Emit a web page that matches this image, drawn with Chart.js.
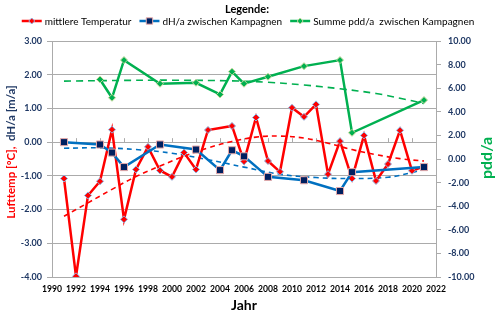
<!DOCTYPE html>
<html>
<head>
<meta charset="utf-8">
<script src="https://cdn.jsdelivr.net/npm/chart.js@4"></script>
<style>
  html, body { margin: 0; padding: 0; background: #fff; }
</style>
</head>
<body>
<canvas id="chart" width="500" height="315"></canvas>
<script>
// Lufttemperatur (jaehrlich)
const tempYears = [1991, 1992, 1993, 1994, 1995, 1996, 1997, 1998, 1999, 2000, 2001, 2002, 2003, 2005, 2006, 2007, 2008, 2009, 2010, 2011, 2012, 2013, 2014, 2015, 2016, 2017, 2018, 2019, 2020, 2021];
const tempValues = [-1.08, -3.98, -1.58, -1.16, 0.37, -2.29, -0.81, -0.14, -0.84, -1.03, -0.31, -0.81, 0.36, 0.48, -0.57, 0.73, -0.56, -0.88, 1.02, 0.75, 1.12, -0.95, 0.03, -1.08, 0.2, -1.15, -0.65, 0.35, -0.85, -0.72];

// dH/a zwischen Kampagnen
const dhYears = [1991, 1994, 1995, 1996, 1999, 2002, 2004, 2005, 2006, 2008, 2011, 2014, 2015, 2021];
const dhValues = [0, -0.07, -0.31, -0.74, -0.07, -0.22, -0.83, -0.24, -0.42, -1.03, -1.13, -1.45, -0.89, -0.74];

// Summe pdd/a zwischen Kampagnen (rechte Achse)
const pddYears = [1994, 1995, 1996, 1999, 2002, 2004, 2005, 2006, 2008, 2011, 2014, 2015, 2021];
const pddValues = [6.74, 5.19, 8.38, 6.38, 6.46, 5.47, 7.40, 6.38, 6.97, 7.87, 8.38, 2.22, 4.99];

// Trendlinien
const tempTrendYears = [1991, 1993, 1995, 1997, 1999, 2001, 2003, 2005, 2007, 2009, 2011, 2013, 2015, 2017, 2019, 2021];
const tempTrendValues = [-2.2, -1.8, -1.4, -1.02, -0.71, -0.42, -0.17, 0.02, 0.15, 0.18, 0.12, -0.03, -0.22, -0.37, -0.49, -0.56];
const dhTrendYears = [1991, 1994, 1997, 2000, 2003, 2006, 2009, 2012, 2015, 2018, 2020, 2021];
const dhTrendValues = [-0.18, -0.17, -0.22, -0.33, -0.52, -0.74, -0.95, -1.05, -1.08, -1.04, -0.9, -0.8];
const pddTrendYears = [1991, 1995, 2000, 2005, 2008, 2011, 2014, 2017, 2019, 2021];
const pddTrendValues = [6.6, 6.65, 6.68, 6.62, 6.5, 6.27, 5.95, 5.55, 5.15, 4.7];

// Achsen
const xTicks = [1990, 2022, 2];
const leftTicks = [-4, 3, 1];
const rightTicks = [-10, 10, 1];

const FONT = 'Lato, "Open Sans", sans-serif';
const NAVY = '#1F3864';
const GRID = '#ABABAB';

const toPoints = (xs, ys) => xs.map((x, i) => ({ x: x, y: ys[i] }));

const trend = (label, xs, ys, color, axis, dash) => ({
    label: label,
    data: toPoints(xs, ys),
    yAxisID: axis,
    borderColor: color,
    borderWidth: 1.6,
    borderDash: dash,
    pointRadius: 0,
    tension: 0.4,
    isTrend: true,
    order: 10
});

// Legende wie in Excel: Linie mit Marker in der Mitte
const legendPlugin = {
    id: 'excelLegend',
    afterDraw(chart) {
        const ctx = chart.ctx;
        ctx.save();
        ctx.fillStyle = '#000';
        ctx.textBaseline = 'middle';
        ctx.textAlign = 'center';
        ctx.font = 'bold 11px ' + FONT;
        ctx.fillText('Legende:', 247, 9);

        ctx.font = '10px ' + FONT;
        ctx.textAlign = 'left';
        const items = chart.data.datasets.filter(d => !d.isTrend);
        const sw = 20, gapIn = 3, gapOut = 8;
        const widths = items.map(d => sw + gapIn + ctx.measureText(d.label).width);
        const total = widths.reduce((a, b) => a + b, 0) + gapOut * (items.length - 1);
        let x = 248 - total / 2;
        const y = 21;
        items.forEach((d, i) => {
            ctx.strokeStyle = d.borderColor;
            ctx.lineWidth = 2.5;
            ctx.beginPath();
            ctx.moveTo(x, y);
            ctx.lineTo(x + sw, y);
            ctx.stroke();
            ctx.fillStyle = d.pointBackgroundColor;
            ctx.strokeStyle = d.pointBorderColor;
            ctx.lineWidth = 1;
            Chart.helpers.drawPoint(ctx, { pointStyle: d.pointStyle, radius: d.pointRadius - 0.5, rotation: 0, borderWidth: 1 }, x + sw / 2, y);
            ctx.fillStyle = '#000';
            ctx.fillText(d.label, x + sw + gapIn, y + 0.5);
            x += widths[i] + gapOut;
        });
        ctx.restore();
    }
};

// Achsentitel links (zweifarbig) und rechts (von unten nach oben)
const axisTitlePlugin = {
    id: 'axisTitles',
    afterDraw(chart) {
        const ctx = chart.ctx;
        ctx.save();
        ctx.font = 'bold 11.5px ' + FONT;
        ctx.textBaseline = 'middle';
        ctx.textAlign = 'left';
        const red = 'Lufttemp [°C],  ';
        const blue = 'dH/a [m/a]';
        const w1 = ctx.measureText(red).width;
        const w2 = ctx.measureText(blue).width;
        ctx.translate(11, 152);
        ctx.rotate(-Math.PI / 2);
        const start = -(w1 + w2) / 2;
        ctx.fillStyle = '#FF0000';
        ctx.fillText(red, start, 0);
        ctx.fillStyle = NAVY;
        ctx.fillText(blue, start + w1, 0);
        ctx.restore();

        ctx.save();
        ctx.font = 'bold 16px ' + FONT;
        ctx.textBaseline = 'middle';
        ctx.textAlign = 'center';
        ctx.fillStyle = '#00B050';
        ctx.translate(487, 158);
        ctx.rotate(-Math.PI / 2);
        ctx.fillText('pdd/a', 0, 0);
        ctx.restore();
    }
};

// kleine Teilstriche der Jahresachse auf der Nulllinie
const zeroTicksPlugin = {
    id: 'zeroTicks',
    beforeDatasetsDraw(chart) {
        const ctx = chart.ctx;
        const xs = chart.scales.x;
        const y0 = chart.scales.y.getPixelForValue(0);
        ctx.save();
        ctx.strokeStyle = GRID;
        ctx.lineWidth = 1;
        ctx.beginPath();
        xs.ticks.forEach(t => {
            const px = Math.round(xs.getPixelForValue(t.value)) + 0.5;
            ctx.moveTo(px, y0);
            ctx.lineTo(px, y0 - 4);
        });
        ctx.stroke();
        ctx.restore();
    }
};

new Chart(document.getElementById('chart'), {
    type: 'line',
    data: {
        datasets: [
            {
                label: 'mittlere Temperatur',
                data: toPoints(tempYears, tempValues),
                yAxisID: 'y',
                borderColor: '#FF0000',
                borderWidth: 2.5,
                pointStyle: 'rectRot',
                pointRadius: 3.5,
                pointBackgroundColor: '#FF0000',
                pointBorderColor: '#8DB4E2',
                pointBorderWidth: 1,
                spanGaps: true,
                tension: 0,
                order: 3
            },
            {
                label: 'dH/a zwischen Kampagnen',
                data: toPoints(dhYears, dhValues),
                yAxisID: 'y',
                borderColor: '#0070C0',
                borderWidth: 2.5,
                pointStyle: 'rect',
                pointRadius: 5,
                pointBackgroundColor: '#002060',
                pointBorderColor: '#E6A9A8',
                pointBorderWidth: 1,
                tension: 0,
                order: 2
            },
            {
                label: 'Summe pdd/a  zwischen Kampagnen',
                data: toPoints(pddYears, pddValues),
                yAxisID: 'y1',
                borderColor: '#00B050',
                borderWidth: 2.5,
                pointStyle: 'rectRot',
                pointRadius: 3.5,
                pointBackgroundColor: '#00B050',
                pointBorderColor: '#C4D79B',
                pointBorderWidth: 1,
                tension: 0,
                order: 1
            },
            trend('Trend Temperatur', tempTrendYears, tempTrendValues, '#FF0000', 'y', [5, 4]),
            trend('Trend dH/a', dhTrendYears, dhTrendValues, '#0070C0', 'y', [5, 4]),
            trend('Trend pdd/a', pddTrendYears, pddTrendValues, '#00B050', 'y1', [7, 5])
        ]
    },
    options: {
        responsive: false,
        animation: false,
        layout: { padding: { top: 41, left: 0, right: 0, bottom: 0 } },
        plugins: {
            legend: { display: false },
            tooltip: { enabled: false }
        },
        scales: {
            x: {
                type: 'linear',
                min: xTicks[0],
                max: xTicks[1],
                ticks: {
                    stepSize: xTicks[2],
                    callback: v => String(v),
                    autoSkip: false,
                    maxRotation: 0,
                    padding: 7,
                    color: '#000',
                    font: { family: FONT, size: 8.6, weight: 'bold' }
                },
                grid: { display: false, drawTicks: false },
                border: { display: true, color: GRID },
                title: {
                    display: true,
                    text: 'Jahr',
                    color: '#000',
                    font: { family: FONT, size: 14, weight: 'bold' },
                    padding: { top: 0, bottom: 1 }
                },
                afterFit: s => { s.height = 38; }
            },
            y: {
                position: 'left',
                min: leftTicks[0],
                max: leftTicks[1],
                ticks: {
                    stepSize: leftTicks[2],
                    callback: v => v.toFixed(2),
                    padding: 5,
                    color: NAVY,
                    font: { family: FONT, size: 9, weight: 'bold' }
                },
                grid: { color: GRID, tickLength: 5 },
                border: { color: GRID },
                afterFit: s => { s.width = 52; }
            },
            y1: {
                position: 'right',
                min: rightTicks[0],
                max: rightTicks[1],
                ticks: {
                    stepSize: rightTicks[2],
                    callback: v => v.toFixed(2),
                    padding: 7,
                    color: NAVY,
                    font: { family: FONT, size: 9, weight: 'bold' }
                },
                grid: { drawOnChartArea: false, color: GRID, tickLength: 5 },
                border: { color: GRID },
                afterFit: s => { s.width = 64; }
            }
        }
    },
    plugins: [zeroTicksPlugin, legendPlugin, axisTitlePlugin]
});
</script>
</body>
</html>
